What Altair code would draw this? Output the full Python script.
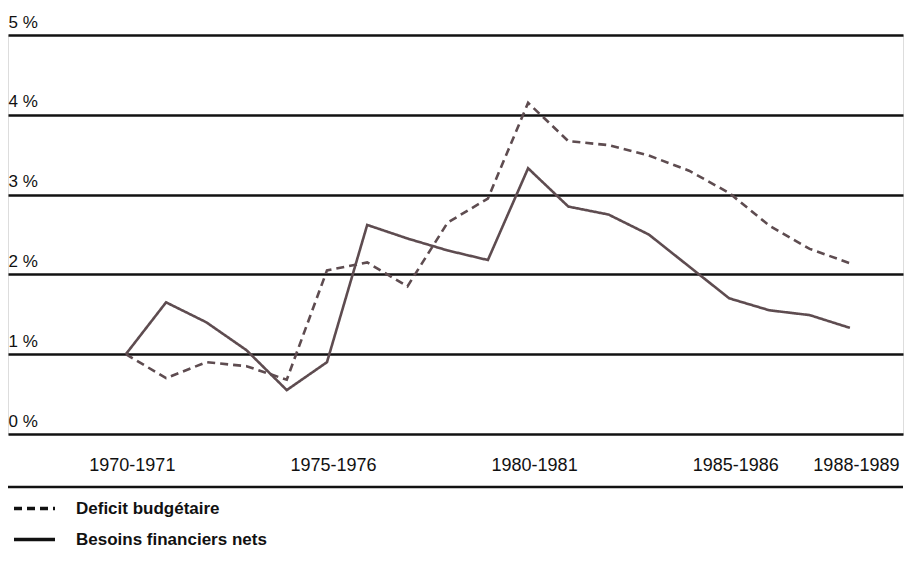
import altair as alt
import pandas as pd

# ---- data ----
years = list(range(1970, 1989))  # fiscal year start: 1970-1971 ... 1988-1989
deficit = [1.0, 0.7, 0.9, 0.85, 0.68, 2.05, 2.15, 1.85, 2.65, 2.95,
           4.15, 3.67, 3.62, 3.49, 3.3, 3.02, 2.61, 2.32, 2.14]
besoins = [1.0, 1.65, 1.4, 1.05, 0.55, 0.9, 2.62, 2.45, 2.3, 2.18,
           3.33, 2.85, 2.75, 2.5, 2.1, 1.7, 1.55, 1.49, 1.33]
series_names = ["Deficit budgétaire", "Besoins financiers nets"]
x_tick_years = [1970, 1975, 1980, 1985, 1988]
x_tick_labels = ["1970-1971", "1975-1976", "1980-1981", "1985-1986", "1988-1989"]
y_ticks = [0, 1, 2, 3, 4, 5]

rows = []
for s, vals in zip(series_names, [deficit, besoins]):
    for yr, v in zip(years, vals):
        rows.append({"annee": yr, "valeur": v, "serie": s})
df = pd.DataFrame(rows)

# label expression built from the tick arrays
expr = "''"
for yv, lab in reversed(list(zip(x_tick_years, x_tick_labels))):
    expr = f"datum.value == {yv} ? '{lab}' : ({expr})"

FONT = "Liberation Sans"
W, H = 895, 399

x_scale = alt.Scale(domain=[1967.07, 1989.32], nice=False, zero=False)
y_scale = alt.Scale(domain=[0, 5], nice=False)

lines = alt.Chart(df).mark_line(strokeWidth=2.6, color="#5e4c50").encode(
    x=alt.X("annee:Q", scale=x_scale,
            axis=alt.Axis(values=x_tick_years, labelExpr=expr, title=None,
                          domain=False, ticks=False, grid=False,
                          labelFont=FONT, labelFontSize=18, labelColor="#111",
                          labelBaseline="top", labelPadding=22, labelOffset=6,
                          labelFlush=False, labelOverlap=False)),
    y=alt.Y("valeur:Q", scale=y_scale,
            axis=alt.Axis(values=y_ticks, labelExpr="datum.value + ' %'", title=None,
                          domain=False, ticks=False, tickSize=0, grid=True,
                          gridColor="#111", gridWidth=2.5, gridOpacity=1,
                          labelFont=FONT, labelFontSize=17, labelColor="#111",
                          labelAlign="left", labelBaseline="alphabetic",
                          labelPadding=0, labelOffset=-8)),
    strokeDash=alt.StrokeDash(
        "serie:N",
        scale=alt.Scale(domain=series_names, range=[[8, 5], [1, 0]]),
        legend=alt.Legend(title=None, orient="none", legendX=4, legendY=451,
                          symbolType="stroke", symbolSize=1681,
                          symbolStrokeWidth=3.5, symbolStrokeColor="#111",
                          labelFont=FONT, labelFontWeight="bold",
                          labelFontSize=17, labelColor="#111", labelLimit=0,
                          labelOffset=19, rowPadding=-3)),
    order=alt.Order("annee:Q"),
)

bottom_rule = alt.Chart(pd.DataFrame({"k": [0]})).mark_rule(
    color="#111", strokeWidth=2.5
).encode(y=alt.value(452), x=alt.value(0), x2=alt.value(W))

chart = alt.layer(bottom_rule, lines).properties(
    width=W, height=H,
    autosize=alt.AutoSizeParams(type="none"),
    padding={"left": 0, "top": 27, "right": 5, "bottom": 120},
).configure_view(stroke=None).configure(background="white")

chart.save("out.html", embed_options={"renderer": "svg", "actions": False})
